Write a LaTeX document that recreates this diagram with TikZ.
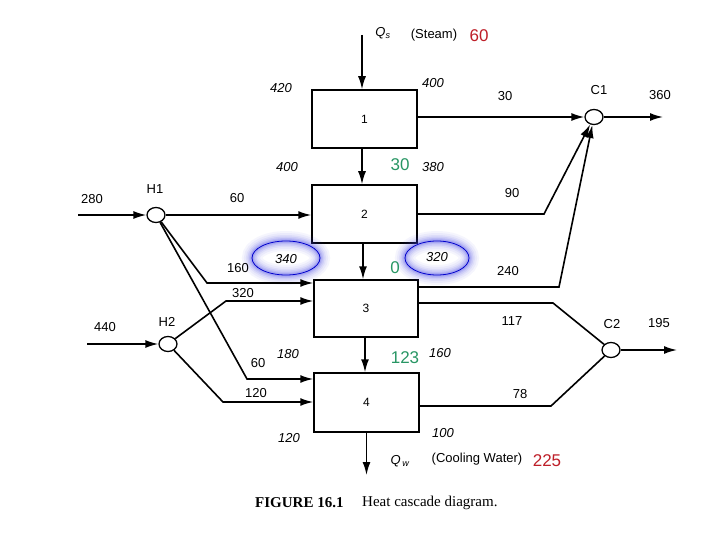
\documentclass[tikz,border=0pt]{standalone}
\usepackage{fontspec}
\setmainfont{Liberation Serif}
\newfontfamily\lab{Liberation Sans}
\usetikzlibrary{arrows.meta,shapes.geometric}
\definecolor{grn}{RGB}{40,150,100}
\definecolor{rd}{RGB}{190,30,40}
\definecolor{glow}{RGB}{70,70,230}
\tikzset{
  box/.style={draw,line width=1.5pt,inner sep=0pt,font=\lab\fontsize{12}{14}\selectfont},
  mix/.style={draw,ellipse,fill=white,line width=1.3pt,minimum width=18pt,minimum height=15pt,inner sep=0pt},
  ln/.style={line width=1.6pt},
  arr/.style={ln,-{Latex[length=13pt,width=8pt]}},
  num/.style={font=\lab\fontsize{13}{15}\selectfont,inner sep=0pt},
  itn/.style={font=\lab\itshape\fontsize{13}{15}\selectfont,inner sep=0pt},
  gnum/.style={font=\lab\fontsize{17}{19}\selectfont,text=grn,inner sep=0pt},
  rnum/.style={font=\lab\fontsize{17}{19}\selectfont,text=rd,inner sep=0pt},
  captxt/.style={font=\fontsize{15}{17}\selectfont,inner sep=0pt}
}
\newcommand{\glowell}[3]{%
  \foreach \w/\o in {20/0.05,16/0.06,12/0.08,9/0.1,6/0.13,3.5/0.18}{\draw[glow,opacity=\o,line width=\w pt] (#1) ellipse ({#2} and {#3});}
  \draw[blue!80!black,line width=0.8pt] (#1) ellipse ({#2} and {#3});}
\begin{document}
\begin{tikzpicture}[x=1pt,y=-1pt]
\useasboundingbox[fill=white] (0,0) rectangle (720,540);
% boxes
\node[box,minimum width=105pt,minimum height=58pt] (b1) at (364.5,119) {1};
\node[box,minimum width=105pt,minimum height=58pt] (b2) at (364.5,214) {2};
\node[box,minimum width=104pt,minimum height=57pt] (b3) at (366,308.5) {3};
\node[box,minimum width=105pt,minimum height=59pt] (b4) at (366.5,402.5) {4};
% mixers
\node[mix] (h1) at (156,215) {};
\node[mix] (h2) at (168,344) {};
\node[mix] (c1) at (594,117) {};
\node[mix] (c2) at (611,350) {};
% coordinates
\coordinate (qs) at (362,35);
\coordinate (qw) at (366.5,475);
\coordinate (in1) at (78,215);
\coordinate (in2) at (87,344);
\coordinate (k2) at (544,214);
\coordinate (k3) at (559,287);
\coordinate (k4) at (553,303);
\coordinate (k5) at (551,406);
\coordinate (k6) at (207,283);
\coordinate (k7) at (247,379);
\coordinate (k8) at (226,301);
\coordinate (k9) at (223,402);
\coordinate (o1) at (663,117);
\coordinate (o2) at (677,350);
% glow ellipses
\glowell{286,258}{34}{17}
\glowell{437,258}{32}{17}
% vertical cascade
\draw[arr] (qs) -- (qs |- b1.north);
\draw[arr] (b1.south -| qs) -- (b2.north -| qs);
\draw[arr] (b2.south -| 363,0) -- (b3.north -| 363,0);
\draw[arr] (b3.south -| 365,0) -- (b4.north -| 365,0);
\draw[arr] (b4.south -| qw) -- (qw);
% right side
\draw[arr] (b1.east |- c1) -- (c1);
\draw[arr] (b2.east |- k2) -- (k2) -- (c1);
\draw[arr] (b3.east |- k3) -- (k3) -- (c1);
\draw[ln] (b3.east |- k4) -- (k4) -- (c2);
\draw[ln] (b4.east |- k5) -- (k5) -- (c2);
\draw[arr] (c1) -- (o1);
\draw[arr] (c2) -- (o2);
% left side
\draw[arr] (in1) -- (h1);
\draw[arr] (in2) -- (h2);
\draw[arr] (h1) -- (b2.west |- h1);
\draw[arr] (h1) -- (k6) -- (b3.west |- k6);
\draw[arr] (h1) -- (k7) -- (b4.west |- k7);
\draw[arr] (h2) -- (k8) -- (b3.west |- k8);
\draw[arr] (h2) -- (k9) -- (b4.west |- k9);
% labels
\node[num] (lqs) at (383,33) {\itshape Q\textsubscript{s}};
\node[num] (lst) at (434,35) {(Steam)};
\node[rnum] (l60r) at (479,36) {60};
\node[num] (lqw) at (400,461) {\itshape Q\textsubscript{\,w}};
\node[num] (lcw) at (477,459) {(Cooling Water)};
\node[rnum] (l225) at (547,461) {225};
\node[itn] (t420) at (281,88) {420};
\node[itn] (t400a) at (433,83) {400};
\node[itn] (t400b) at (287,167) {400};
\node[gnum] (g30) at (400,165) {30};
\node[itn] (t380) at (433,167) {380};
\node[itn] (t340) at (286,259) {340};
\node[itn] (t320) at (437,257) {320};
\node[gnum] (g0) at (395,268) {0};
\node[itn] (t180) at (288,354) {180};
\node[gnum] (g123) at (405,358) {123};
\node[itn] (t160) at (440,353) {160};
\node[itn] (t120) at (289,438) {120};
\node[itn] (t100) at (443,433) {100};
\node[num] (n30) at (505,96) {30};
\node[num] (nc1) at (599,90) {C1};
\node[num] (n360) at (660,95) {360};
\node[num] (n90) at (512,193) {90};
\node[num] (n240) at (508,271) {240};
\node[num] (n117) at (512,321) {117};
\node[num] (nc2) at (612,324) {C2};
\node[num] (n195) at (659,323) {195};
\node[num] (n78) at (520,394) {78};
\node[num] (n280) at (92,199) {280};
\node[num] (nh1) at (155,189) {H1};
\node[num] (n60) at (237,198) {60};
\node[num] (n160) at (238,268) {160};
\node[num] (n320) at (243,293) {320};
\node[num] (n440) at (105,327) {440};
\node[num] (nh2) at (167,322) {H2};
\node[num] (n60b) at (258,363) {60};
\node[num] (n120) at (256,393) {120};
\node[captxt,anchor=west] (cap1) at (255,503) {\textbf{FIGURE 16.1}};
\node[captxt,anchor=west] (cap2) at (362,503) {Heat cascade diagram.};
\end{tikzpicture}
\end{document}
